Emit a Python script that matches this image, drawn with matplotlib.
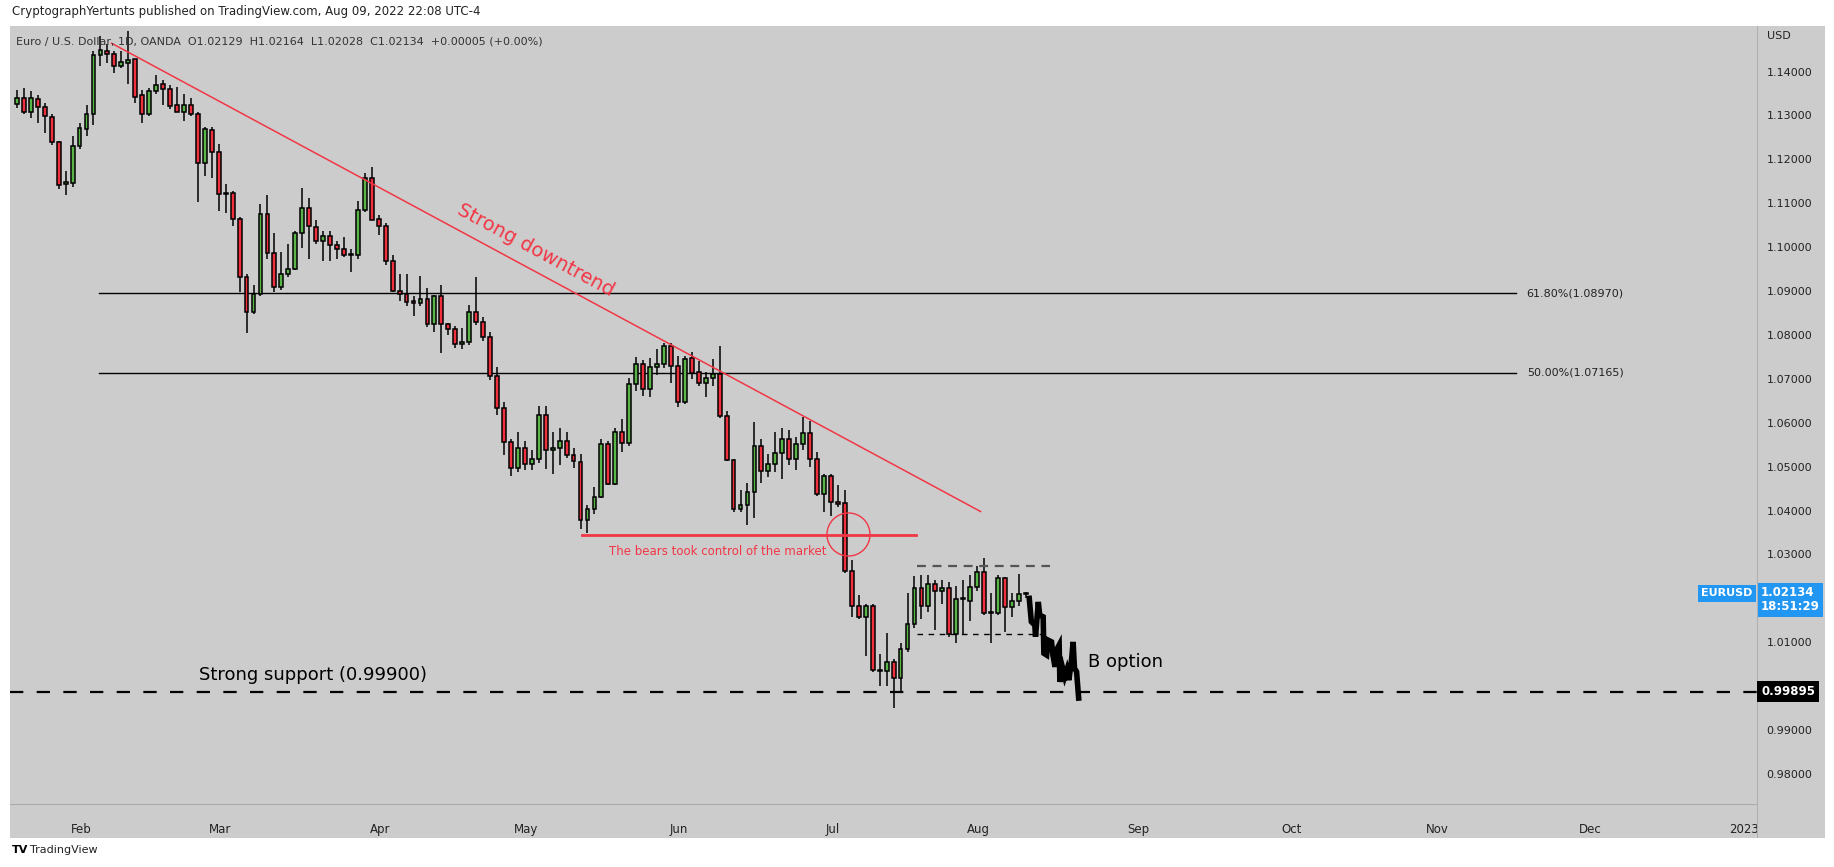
import numpy as np
import pandas as pd
import matplotlib
matplotlib.use("Agg")
import matplotlib.pyplot as plt
from matplotlib.patches import Rectangle

# ---- data (EURUSD daily) ----
opens = [1.1328, 1.1342, 1.1310, 1.1340, 1.1322, 1.1298, 1.1241, 1.1145, 1.1148, 1.1232,
         1.1272, 1.1305, 1.1440, 1.1450, 1.1443, 1.1415, 1.1422, 1.1430, 1.1348, 1.1305,
         1.1358, 1.1375, 1.1362, 1.1325, 1.1310, 1.1327, 1.1306, 1.1194, 1.1270, 1.1218,
         1.1124, 1.1125, 1.1066, 1.0935, 1.0854, 1.0895, 1.1077, 1.0990, 1.0912, 1.0942,
         1.0952, 1.1034, 1.1091, 1.1049, 1.1016, 1.1028, 1.1006, 1.0998, 1.0985, 1.0985,
         1.1087, 1.1160, 1.1066, 1.1050, 1.0970, 1.0903, 1.0895, 1.0880, 1.0875, 1.0884,
         1.0827, 1.0892, 1.0827, 1.0815, 1.0781, 1.0787, 1.0854, 1.0831, 1.0797, 1.0709,
         1.0636, 1.0558, 1.0499, 1.0545, 1.0508, 1.0520, 1.0620, 1.0540, 1.0545, 1.0561,
         1.0529, 1.0513, 1.0381, 1.0405, 1.0433, 1.0554, 1.0463, 1.0582, 1.0556, 1.0690,
         1.0736, 1.0679, 1.0729, 1.0735, 1.0777, 1.0732, 1.0650, 1.0750, 1.0717, 1.0693,
         1.0703, 1.0714, 1.0617, 1.0518, 1.0406, 1.0415, 1.0445, 1.0550, 1.0493, 1.0508,
         1.0533, 1.0565, 1.0519, 1.0553, 1.0578, 1.0519, 1.0440, 1.0481, 1.0422, 1.0420,
         1.0264, 1.0184, 1.0159, 1.0184, 1.0040, 1.0037, 1.0058, 1.0021, 1.0086, 1.0143,
         1.0226, 1.0185, 1.0234, 1.0220, 1.0226, 1.0122, 1.0200, 1.0196, 1.0227, 1.0262,
         1.0168, 1.0168, 1.0248, 1.0182, 1.0196, 1.02129]
highs = [1.1360, 1.1365, 1.1358, 1.1348, 1.1330, 1.1305, 1.1245, 1.1175, 1.1255, 1.1284,
         1.1325, 1.1450, 1.1483, 1.1465, 1.1450, 1.1450, 1.1495, 1.1430, 1.1360, 1.1365,
         1.1395, 1.1382, 1.1372, 1.1368, 1.1352, 1.1342, 1.1310, 1.1275, 1.1275, 1.1238,
         1.1147, 1.1130, 1.1070, 1.0940, 1.0915, 1.1100, 1.1120, 1.1035, 1.0992, 1.1010,
         1.1040, 1.1137, 1.1115, 1.1065, 1.1040, 1.1040, 1.1016, 1.1025, 1.0997, 1.1108,
         1.1172, 1.1185, 1.1075, 1.1058, 1.0985, 1.0940, 1.0940, 1.0890, 1.0937, 1.0910,
         1.0894, 1.0917, 1.0830, 1.0822, 1.0817, 1.0870, 1.0935, 1.0844, 1.0808, 1.0730,
         1.0650, 1.0565, 1.0580, 1.0560, 1.0540, 1.0640, 1.0640, 1.0580, 1.0590, 1.0580,
         1.0545, 1.0530, 1.0415, 1.0455, 1.0565, 1.0560, 1.0590, 1.0610, 1.0705, 1.0752,
         1.0745, 1.0750, 1.0770, 1.0785, 1.0785, 1.0755, 1.0755, 1.0764, 1.0743, 1.0718,
         1.0748, 1.0777, 1.0630, 1.0520, 1.0450, 1.0465, 1.0605, 1.0565, 1.0530, 1.0580,
         1.0590, 1.0585, 1.0570, 1.0615, 1.0607, 1.0535, 1.0485, 1.0485, 1.0460, 1.0450,
         1.0290, 1.0210, 1.0190, 1.0190, 1.0075, 1.0124, 1.0065, 1.0100, 1.0215, 1.0253,
         1.0255, 1.0255, 1.0245, 1.0245, 1.0240, 1.0230, 1.0245, 1.0255, 1.0275, 1.0295,
         1.0215, 1.0255, 1.0250, 1.0215, 1.0258, 1.02164]
lows = [1.1320, 1.1305, 1.1296, 1.1285, 1.1263, 1.1235, 1.1134, 1.1122, 1.1140, 1.1225,
        1.1255, 1.1280, 1.1415, 1.1422, 1.1400, 1.1410, 1.1373, 1.1330, 1.1285, 1.1300,
        1.1350, 1.1325, 1.1318, 1.1310, 1.1290, 1.1300, 1.1106, 1.1165, 1.1160, 1.1085,
        1.1080, 1.1050, 1.0900, 1.0807, 1.0850, 1.0890, 1.0975, 1.0900, 1.0905, 1.0935,
        1.0950, 1.1000, 1.0975, 1.1010, 1.0970, 1.0970, 1.0976, 1.0980, 1.0946, 1.0975,
        1.1083, 1.1063, 1.1030, 1.0962, 1.0900, 1.0880, 1.0868, 1.0845, 1.0868, 1.0820,
        1.0810, 1.0760, 1.0803, 1.0773, 1.0770, 1.0780, 1.0825, 1.0788, 1.0700, 1.0620,
        1.0528, 1.0480, 1.0490, 1.0495, 1.0495, 1.0510, 1.0496, 1.0485, 1.0505, 1.0522,
        1.0500, 1.0360, 1.0350, 1.0395, 1.0430, 1.0460, 1.0460, 1.0535, 1.0550, 1.0675,
        1.0662, 1.0660, 1.0710, 1.0727, 1.0692, 1.0637, 1.0645, 1.0702, 1.0685, 1.0660,
        1.0686, 1.0613, 1.0515, 1.0398, 1.0398, 1.0369, 1.0385, 1.0465, 1.0478, 1.0490,
        1.0475, 1.0505, 1.0495, 1.0540, 1.0502, 1.0435, 1.0400, 1.0390, 1.0410, 1.0260,
        1.0160, 1.0155, 1.0071, 1.0035, 1.0002, 1.0002, 0.9952, 0.9990, 1.0080, 1.0135,
        1.0155, 1.0170, 1.0130, 1.0190, 1.0115, 1.0100, 1.0120, 1.0150, 1.0220, 1.0165,
        1.0100, 1.0165, 1.0125, 1.0160, 1.0185, 1.02028]
closes = [1.1342, 1.1310, 1.1343, 1.1322, 1.1300, 1.1241, 1.1144, 1.1150, 1.1232, 1.1274,
          1.1305, 1.1440, 1.1452, 1.1442, 1.1414, 1.1423, 1.1428, 1.1345, 1.1305, 1.1358,
          1.1372, 1.1362, 1.1323, 1.1310, 1.1327, 1.1306, 1.1194, 1.1272, 1.1218, 1.1124,
          1.1124, 1.1066, 1.0935, 1.0854, 1.0895, 1.1077, 1.0989, 1.0912, 1.0942, 1.0953,
          1.1034, 1.1091, 1.1050, 1.1016, 1.1028, 1.1007, 1.0998, 1.0984, 1.0985, 1.1087,
          1.1160, 1.1065, 1.1050, 1.0970, 1.0903, 1.0895, 1.0878, 1.0875, 1.0884, 1.0827,
          1.0892, 1.0827, 1.0815, 1.0781, 1.0787, 1.0854, 1.0831, 1.0797, 1.0709, 1.0635,
          1.0558, 1.0499, 1.0545, 1.0508, 1.0520, 1.0620, 1.0540, 1.0545, 1.0561, 1.0529,
          1.0514, 1.0381, 1.0405, 1.0433, 1.0554, 1.0463, 1.0582, 1.0556, 1.0691, 1.0736,
          1.0679, 1.0729, 1.0735, 1.0777, 1.0732, 1.0650, 1.0748, 1.0716, 1.0693, 1.0703,
          1.0714, 1.0617, 1.0518, 1.0406, 1.0415, 1.0445, 1.0550, 1.0493, 1.0508, 1.0533,
          1.0565, 1.0519, 1.0553, 1.0578, 1.0519, 1.0440, 1.0480, 1.0422, 1.0418, 1.0264,
          1.0185, 1.0159, 1.0184, 1.0040, 1.0037, 1.0058, 1.0021, 1.0086, 1.0143, 1.0226,
          1.0185, 1.0234, 1.0220, 1.0226, 1.0122, 1.0200, 1.0203, 1.0228, 1.0262, 1.0168,
          1.0170, 1.0248, 1.0182, 1.0196, 1.0213, 1.02134]

# hand-drawn "B option" projection (bar position, price)
proj_x = [145.5, 145.8, 146.3, 146.4, 146.8, 147.0, 147.5, 147.6, 148.0, 148.2, 148.7, 148.9,
          149.2, 149.4, 149.8, 149.9, 150.3, 150.6, 150.9, 151.2, 151.6, 151.8, 152.0, 152.3, 152.6]
proj_y = [1.0202, 1.0149, 1.0141, 1.0115, 1.0194, 1.0164, 1.0160, 1.0077, 1.0073, 1.0107, 1.0103,
          1.0073, 1.0046, 1.0084, 1.0096, 1.0012, 1.0043, 1.0024, 1.0039, 1.0016, 1.0065, 1.0103,
          1.0043, 1.0035, 0.9975]

fib_levels = [1.08970, 1.07165]
fib_labels = ["61.80%(1.08970)", "50.00%(1.07165)"]
support = 0.99895
trend_x = [13.6, 138.5]
trend_y = [1.14667, 1.0400]
bears_level = 1.03467
price_ticks = [0.98, 0.99, 1.00, 1.01, 1.03, 1.04, 1.05, 1.06, 1.07, 1.08, 1.09,
               1.10, 1.11, 1.12, 1.13, 1.14]

GREEN = "#5ab548"
RED = "#f0303f"
TVRED = "#f23645"
BG = "#cccccc"

n = len(closes)
dates = pd.bdate_range(end="2022-08-09", periods=n)
future = pd.bdate_range(start=dates[0], end="2023-01-20")

W, H = 1834, 867
fig = plt.figure(figsize=(W / 100, H / 100), dpi=100, facecolor="white")

def box(l, t, r, b):
    return [l / W, 1 - b / H, (r - l) / W, (b - t) / H]

ax = fig.add_axes(box(10, 26, 1757, 804))
ax.set_facecolor(BG)
for s in ax.spines.values():
    s.set_visible(False)
ax.set_xlim(-1.0, 250.1)
ax.set_ylim(0.97337, 1.1506)
ax.set_yticks([])

# candles
x = np.arange(n)
o = np.array(opens); c = np.array(closes)
cols = [GREEN if cc >= oo else RED for oo, cc in zip(o, c)]
ax.vlines(x, lows, highs, color="black", lw=1.1, zorder=2)
body_lo = np.minimum(o, c)
body_h = np.maximum(np.abs(c - o), 0.00012)
ax.bar(x, body_h, bottom=body_lo, width=0.55, color=cols, edgecolor="black",
       linewidth=1.1, zorder=3)

# month ticks
month_pos, month_lab = [], []
for i, d in enumerate(future):
    if i > 0 and d.month != future[i - 1].month:
        month_pos.append(i - 0.8)
        month_lab.append(str(d.year) if d.month == 1 else d.strftime("%b"))
ax.set_xticks(month_pos)
ax.set_xticklabels(month_lab, fontsize=8.5, color="#222222")
ax.tick_params(axis="x", length=0, pad=14)

# fib lines
for lv, lb in zip(fib_levels, fib_labels):
    ax.plot([11.8, 215.5], [lv, lv], color="black", lw=1, zorder=1)
    ax.text(217, lv, lb, fontsize=8, va="center", ha="left", color="#222222")

# trend line
ax.plot(trend_x, trend_y, color=TVRED, lw=1.1, zorder=4)
ax.text(74.5, 1.0995, "Strong downtrend", color=TVRED, fontsize=14, rotation=-28.3,
        ha="center", va="center", rotation_mode="anchor")

# bears level + circle
ax.plot([81.2, 129.2], [bears_level, bears_level], color=TVRED, lw=2, zorder=4)
ax.plot([119.5], [bears_level + 0.0002], marker="o", ms=31, mfc="none", mec=TVRED, mew=1, zorder=5)
ax.text(100.7, 1.0309, "The bears took control of the market", color=TVRED, fontsize=8.5,
        ha="center", va="center")

# range box
ax.plot([129.3, 148.5], [1.0277, 1.0277], color="#555555", lw=1.6, ls=(0, (4, 3)), zorder=4)
ax.plot([129.3, 148.5], [1.0122, 1.0122], color="black", lw=1, ls=(0, (4, 4)), zorder=4)

# projection
ax.plot(proj_x, proj_y, color="black", lw=4, zorder=6, solid_joinstyle="miter")
ax.text(154, 1.0057, "B option", fontsize=13, va="center", ha="left")

# support
ax.axhline(support, color="black", lw=1.6, ls=(0, (6, 6)), zorder=4)
ax.text(26.2, 1.0027, "Strong support (0.99900)", fontsize=13, va="center", ha="left")

# EURUSD tag inside chart
ax.text(249.5, 1.02134, "EURUSD", fontsize=8, color="white", ha="right", va="center",
        fontweight="bold", bbox=dict(boxstyle="square,pad=0.3", fc="#2196f3", ec="none"))

# time axis strip
tax = fig.add_axes(box(10, 804, 1825, 838))
tax.set_facecolor(BG)
tax.set_xticks([]); tax.set_yticks([])
for s in tax.spines.values():
    s.set_visible(False)
tax.axhline(1, color="#aaaaaa", lw=1.5)
ax.set_zorder(2)
ax.patch.set_alpha(0)
fig.patches.append(Rectangle((10 / W, 1 - 804 / H), 1747 / W, 778 / H, transform=fig.transFigure,
                             fc=BG, ec="none", zorder=0))

# price axis panel
pax = fig.add_axes(box(1757, 26, 1825, 838))
pax.set_zorder(3)
pax.set_facecolor(BG)
pax.set_xticks([]); pax.set_yticks([])
for s in pax.spines.values():
    s.set_visible(False)
pax.axvline(0, color="#aaaaaa", lw=1.2)
pax.set_xlim(0, 1)
ylo, yhi = ax.get_ylim()
pax.set_ylim(ylo - (yhi - ylo) * 34 / 778, yhi)
for p in price_ticks:
    pax.text(0.14, p, f"{p:.5f}", fontsize=8, va="center", ha="left", color="#222222", zorder=1)
pax.text(0.14, 1.1506 - 0.0012, "USD", fontsize=8, va="top", ha="left", color="#222222")
pax.text(0.06, 1.0199, "1.02134\n18:51:29", fontsize=8.5, color="white", fontweight="bold",
         va="center", ha="left", linespacing=1.05, zorder=5,
         bbox=dict(boxstyle="square,pad=0.3", fc="#2196f3", ec="none"))
pax.text(0.06, support, "0.99895", fontsize=8.5, color="white", fontweight="bold",
         va="center", ha="left", zorder=5,
         bbox=dict(boxstyle="square,pad=0.35", fc="black", ec="none"))

# header / footer
fig.text(12 / W, 1 - 12 / H, "CryptographYertunts published on TradingView.com, Aug 09, 2022 22:08 UTC-4",
         fontsize=8.5, va="center", ha="left", color="#222222")
fig.text(16 / W, 1 - 41 / H,
         "Euro / U.S. Dollar, 1D, OANDA  O1.02129  H1.02164  L1.02028  C1.02134  +0.00005 (+0.00%)",
         fontsize=8, va="center", ha="left", color="#333333", zorder=10)
fig.text(12 / W, 1 - 850 / H, "TV", fontsize=8, fontweight="bold", va="center", ha="left")
fig.text(30 / W, 1 - 850 / H, "TradingView", fontsize=8, va="center", ha="left", color="#222222")

fig.savefig("out.png", dpi=100, facecolor="white")
